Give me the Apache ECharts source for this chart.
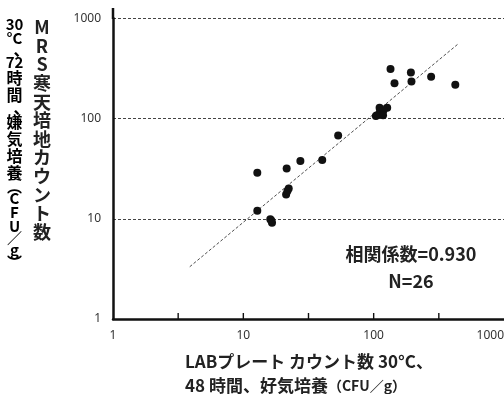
<!DOCTYPE html>
<html><head><meta charset="utf-8">
<script src="https://cdn.jsdelivr.net/npm/echarts@6/dist/echarts.min.js"></script>
<style>html,body{margin:0;padding:0;background:#fff}#c{width:504px;height:394px}</style>
</head><body><div id="c"></div>
<script>
// LAB plate count (x) vs MRS agar count (y), CFU/g
const xValues = [12.8, 21.5, 27.4, 40.3, 53.4, 12.8, 22.3, 21.3, 16.1, 16.6,
  134.7, 193, 144.5, 195, 276, 423, 111, 127, 106, 116, 112, 119, 104, 118, 16.4, 21.8];
const yValues = [28.7, 31.8, 37.6, 38.5, 67.9, 12.0, 20.1, 17.5, 9.9, 9.1,
  312, 288, 225, 234, 261, 217, 128, 128, 108, 112, 118, 121, 106, 108, 9.6, 18.9];
const trendX = [3.88, 439.5];
const trendY = [3.32, 548];
const xTickLabels = ['1', '10', '100', '1000'];            // labels at decades
const xTickMarks = [3.162, 10, 31.62, 100, 316.2];          // tick marks at half-decades
const yTickLabels = [1, 10, 100, 1000];
const corrText = '相関係数=0.930';
const nText = 'N=26';
const yNameMain = ['M','R','S','寒','天','培','地','カ','ウ','ン','ト','数'];
// [text, style] for vertical sub title
const yNameSub = [['30','d'],['°C','d'],['、','p'],['72','d'],['時','k'],['間','k'],['、','p'],
  ['嫌','k'],['気','k'],['培','k'],['養','k'],['︵','q'],['C','l'],['F','l'],['U','l'],['／','q'],['g','l'],['︶','q']];

const jp = "'Noto Sans CJK JP', 'Noto Sans', sans-serif";
const chart = echarts.init(document.getElementById('c'), null, {renderer: 'canvas'});
const pts = xValues.map((x, i) => [x, yValues[i]]);
const trend = trendX.map((x, i) => [x, trendY[i]]);
const tickPts = xTickMarks.map(x => [x, 1]);
const subText = yNameSub.map(p => '{' + p[1] + '|' + p[0] + '}').join('\n');
const sty = (size, lh, extra) => Object.assign({fontSize: size, fontWeight: 'bold', fontFamily: jp, color: '#222', lineHeight: lh, align: 'center'}, extra || {});

chart.setOption({
  animation: false,
  backgroundColor: '#fff',
  grid: {left: 113, right: 0, top: 18.3, bottom: 75, containLabel: false, outerBoundsMode: 'none'},
  xAxis: [{
    // label axis in decades (exponent of 10)
    type: 'value', min: 0, max: 3, interval: 1, position: 'bottom',
    axisLine: {show: true, lineStyle: {color: '#111', width: 2.5}},
    axisTick: {show: false},
    splitLine: {show: false},
    axisLabel: {
      color: '#333', fontSize: 12, fontFamily: "'Noto Sans', sans-serif", margin: 11,
      alignMaxLabel: 'right',
      formatter: v => (xTickLabels[Math.round(v)] || '')
    }
  }, {
    type: 'log', logBase: 10, min: 1, max: 1000, show: false
  }],
  yAxis: {
    type: 'log', logBase: 10, min: 1, max: 1000,
    axisLine: {show: true, lineStyle: {color: '#111', width: 2.5}},
    axisTick: {show: false},
    splitLine: {show: true, lineStyle: {color: '#444', width: 1, type: [3, 2]}},
    axisLabel: {
      color: '#333', fontSize: 12, fontFamily: "'Noto Sans', sans-serif", margin: 12,
      formatter: v => (yTickLabels.indexOf(Math.round(v)) >= 0 ? String(Math.round(v)) : '')
    }
  },
  series: [{
    // x-axis tick marks, pointing up into the plot
    type: 'scatter', data: tickPts, xAxisIndex: 1, symbol: 'rect', symbolSize: [1.4, 6],
    symbolOffset: [0, -3], itemStyle: {color: '#111', opacity: 1}, silent: true, z: 1, clip: false
  }, {
    type: 'line', data: trend, xAxisIndex: 1, showSymbol: false, symbol: 'none',
    lineStyle: {color: '#222', width: 0.8, type: [3, 2]}, silent: true, z: 2
  }, {
    type: 'scatter', data: pts, xAxisIndex: 1, symbol: 'circle', symbolSize: 8,
    itemStyle: {color: '#111', opacity: 1}, z: 3
  }],
  graphic: [
    {type: 'line', shape: {x1: 113, y1: 8, x2: 113, y2: 19}, style: {stroke: '#111', lineWidth: 2.5}},
    {type: 'text', x: 42, y: 18, style: {text: yNameMain.join('\n'), font: 'bold 18px ' + jp, fill: '#222', textAlign: 'center', lineHeight: 18.6}},
    {type: 'text', x: 14.5, y: 17, style: {
      text: subText, textAlign: 'center',
      rich: {d: sty(15, 14), k: sty(16, 17), p: sty(16, 10, {padding: [0, 0, 0, 14]}), l: sty(15, 14), q: sty(15, 10)}
    }},
    {type: 'text', x: 411, y: 254, style: {text: corrText, font: 'bold 18px ' + jp, fill: '#222', textAlign: 'center', textVerticalAlign: 'middle'}},
    {type: 'text', x: 411, y: 281, style: {text: nText, font: 'bold 18px ' + jp, fill: '#222', textAlign: 'center', textVerticalAlign: 'middle'}},
    {type: 'text', x: 185, y: 362, style: {text: 'LABプレート カウント数 30°C、', font: 'bold 17px ' + jp, fill: '#222', textAlign: 'left', textVerticalAlign: 'middle'}},
    {type: 'text', x: 185, y: 386, style: {
      text: '{a|48 時間、好気培養}{b|（CFU／g）}', textAlign: 'left', textVerticalAlign: 'middle',
      rich: {a: {font: 'bold 17px ' + jp, fill: '#222'}, b: {font: 'bold 14px ' + jp, fill: '#222'}}
    }}
  ]
});
</script></body></html>
